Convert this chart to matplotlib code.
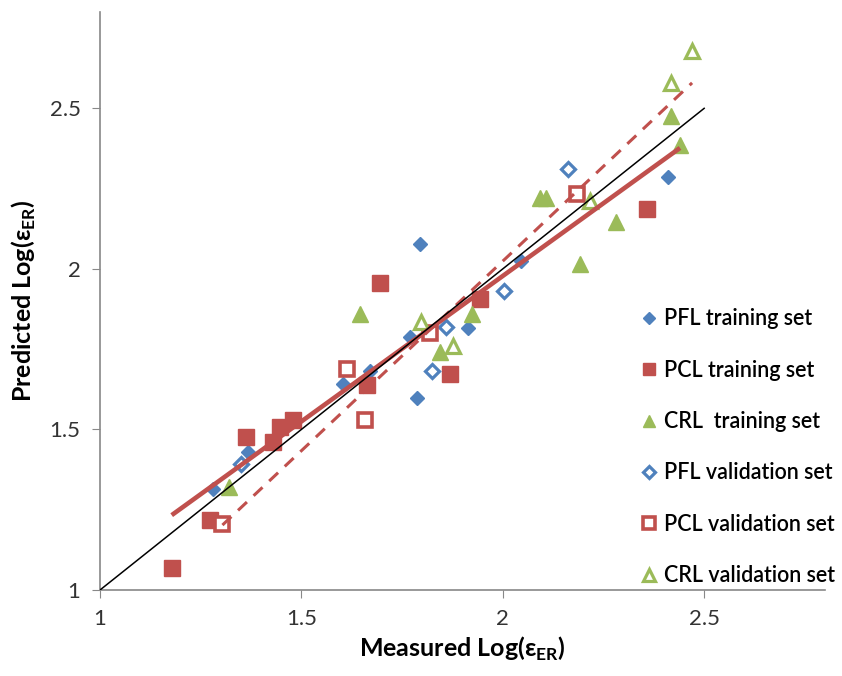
import numpy as np
import matplotlib.pyplot as plt

plt.rcParams['font.family'] = ['Lato', 'DejaVu Sans']
plt.rcParams['mathtext.fontset'] = 'custom'
plt.rcParams['mathtext.rm'] = 'Lato'
plt.rcParams['mathtext.bf'] = 'Lato:bold'

# measured vs predicted Log(eps_ER)
pfl_train_x = [1.281, 1.368, 1.604, 1.670, 1.769, 1.786, 1.794, 1.914, 2.046, 2.410]
pfl_train_y = [1.316, 1.430, 1.642, 1.683, 1.787, 1.598, 2.077, 1.816, 2.025, 2.286]

pcl_train_x = [1.178, 1.273, 1.362, 1.430, 1.447, 1.480, 1.662, 1.695, 1.870, 1.943, 2.359]
pcl_train_y = [1.067, 1.217, 1.478, 1.460, 1.507, 1.528, 1.637, 1.957, 1.673, 1.906, 2.185]

crl_train_x = [1.321, 1.645, 1.844, 1.924, 2.092, 2.108, 2.191, 2.280, 2.418, 2.440]
crl_train_y = [1.321, 1.860, 1.740, 1.859, 2.221, 2.221, 2.015, 2.147, 2.475, 2.387]

pfl_val_x = [1.349, 1.825, 1.858, 2.002, 2.162]
pfl_val_y = [1.391, 1.681, 1.820, 1.932, 2.310]

pcl_val_x = [1.304, 1.612, 1.657, 1.819, 2.184]
pcl_val_y = [1.204, 1.689, 1.528, 1.800, 2.232]

crl_val_x = [1.798, 1.877, 2.217, 2.418, 2.470]
crl_val_y = [1.836, 1.761, 2.211, 2.579, 2.679]

ideal_x = [1.0, 2.5]

blue = '#4F81BD'
red = '#C0504D'
green = '#9BBB59'

fig = plt.figure(figsize=(8.42, 6.76), dpi=100)
ax = fig.add_axes([100 / 842, 86 / 676, 725 / 842, 578 / 676])

ax.plot(pfl_train_x, pfl_train_y, 'D', ms=7.5, color=blue, mec=blue, ls='none',
        label='PFL training set', zorder=3)
ax.plot(pcl_train_x, pcl_train_y, 's', ms=11, color=red, mec=red, ls='none',
        label='PCL training set', zorder=3)
ax.plot(crl_train_x, crl_train_y, '^', ms=11, color=green, mec=green, ls='none',
        label='CRL  training set', zorder=3)
ax.plot(pfl_val_x, pfl_val_y, 'D', ms=7, mfc='white', mec=blue, mew=2.3, ls='none',
        label='PFL validation set', zorder=3)
ax.plot(pcl_val_x, pcl_val_y, 's', ms=9.5, mfc='white', mec=red, mew=2.6, ls='none',
        label='PCL validation set', zorder=3)
ax.plot(crl_val_x, crl_val_y, '^', ms=10, mfc='white', mec=green, mew=2.3, ls='none',
        label='CRL validation set', zorder=3)

# trend lines over training and validation points
tr_x = np.array(pfl_train_x + pcl_train_x + crl_train_x)
tr_y = np.array(pfl_train_y + pcl_train_y + crl_train_y)
va_x = np.array(pfl_val_x + pcl_val_x + crl_val_x)
va_y = np.array(pfl_val_y + pcl_val_y + crl_val_y)
k, b = np.polyfit(tr_x, tr_y, 1)
xs = np.array([tr_x.min(), tr_x.max()])
ax.plot(xs, k * xs + b, color=red, lw=3.3, solid_capstyle='butt', zorder=4)
k2, b2 = np.polyfit(va_x, va_y, 1)
xs2 = np.array([va_x.min(), va_x.max()])
ax.plot(xs2, k2 * xs2 + b2, color=red, lw=2.2, dashes=(4, 3), zorder=4)

ax.plot(ideal_x, ideal_x, color='black', lw=1.1, zorder=4)

ax.set_xlim(1, 2.8)
ax.set_ylim(1, 2.8)
ax.set_xticks([1, 1.5, 2, 2.5])
ax.set_yticks([1, 1.5, 2, 2.5])
ax.set_xticklabels(['1', '1.5', '2', '2.5'])
ax.set_yticklabels(['1', '1.5', '2', '2.5'])
for s in ['top', 'right']:
    ax.spines[s].set_visible(False)
for s in ['left', 'bottom']:
    ax.spines[s].set_color('#888888')
    ax.spines[s].set_linewidth(1.2)
ax.tick_params(direction='out', length=6, color='#888888', labelsize=16,
               labelcolor='#333333', pad=8)

ax.set_xlabel(r'Measured Log($\mathbf{\epsilon}_{\mathbf{ER}}$)', fontsize=18,
              fontweight='bold', labelpad=4)
ax.set_ylabel(r'Predicted Log($\mathbf{\epsilon}_{\mathbf{ER}}$)', fontsize=18,
              fontweight='bold', labelpad=8)

fig.legend(loc='upper left', bbox_to_anchor=(619 / 842, 1 - 289 / 676),
           frameon=False, prop={'size': 15.5, 'weight': 'semibold'},
           handletextpad=0.2, labelspacing=1.41,
           markerscale=0.85, handlelength=1.0)

fig.savefig('out.png', dpi=100)
